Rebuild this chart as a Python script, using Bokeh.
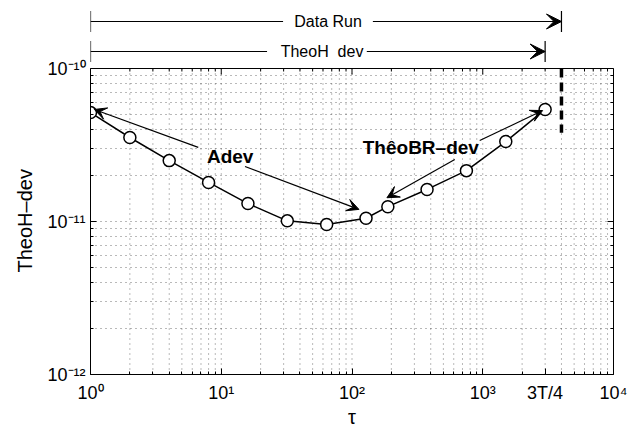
from bokeh.plotting import figure
from bokeh.models import (FixedTicker, LogAxis, Arrow, VeeHead, TeeHead, Label,
                          Range1d, CustomJSTickFormatter, Title)
from bokeh.embed import file_html
from bokeh.resources import INLINE

# ---- data ----
tau = [1, 2, 4, 8, 16, 32, 64, 128, 188, 375, 750, 1500, 3000]
dev = [5.15e-11, 3.54e-11, 2.5e-11, 1.8e-11, 1.31e-11, 1.01e-11, 9.55e-12,
       1.05e-11, 1.25e-11, 1.62e-11, 2.15e-11, 3.33e-11, 5.4e-11]
T = 4000
x_major = [1, 10, 100, 1000, 3000, 10000]
x_labels = ["10\u2070", "10\u00b9", "10\u00b2", "10\u00b3", "3T/4", "10\u2074"]
y_major = [1e-12, 1e-11, 1e-10]
y_labels = ["10\u207b\u00b9\u00b2", "10\u207b\u00b9\u00b9", "10\u207b\u00b9\u2070"]
x_decades = [1, 10, 100, 1000, 10000]
x_minor = [m * d for d in [1, 10, 100, 1000] for m in range(2, 10)]
y_minor = [m * d for d in [1e-12, 1e-11] for m in range(2, 10)]

FONT = "Liberation Sans"
X0, X1 = 1, 1e4
Y0, Y1 = 1e-12, 1e-10
DEC_PX = 153.0                      # pixels per y decade
Y_TOP = Y0 * 10 ** (374 / DEC_PX)   # frame extended up to the top of the page


def ydown(y, px):
    return y * 10 ** (-px / DEC_PX)


p = figure(width=635, height=430, x_axis_type="log", y_axis_type="log",
           x_range=Range1d(X0, X1), y_range=Range1d(Y0, Y_TOP),
           output_backend="svg", toolbar_location=None,
           min_border_left=90, min_border_right=22, min_border_top=0,
           min_border_bottom=56, background_fill_color="white",
           border_fill_color="white")
p.outline_line_color = None

lab_code = """
let best = 0, bd = Infinity;
for (let i = 0; i < tv.length; i++) {
  const d = Math.abs(Math.log10(tick) - Math.log10(tv[i]));
  if (d < bd) { bd = d; best = i; }
}
return labels[best];
"""

xa = p.xaxis[0]
xa.ticker = FixedTicker(ticks=x_major, minor_ticks=x_minor)
xa.formatter = CustomJSTickFormatter(code=lab_code, args=dict(tv=x_major, labels=x_labels))
ya = p.yaxis[0]
ya.ticker = FixedTicker(ticks=y_major, minor_ticks=y_minor)
ya.formatter = CustomJSTickFormatter(code=lab_code, args=dict(tv=y_major, labels=y_labels))
ya.bounds = (Y0, Y1)

for ax in (xa, ya):
    ax.major_tick_in = 6
    ax.major_tick_out = 0
    ax.minor_tick_in = 3
    ax.minor_tick_out = 0
    ax.axis_line_color = "black"
    ax.major_tick_line_color = "black"
    ax.minor_tick_line_color = "black"
    ax.major_label_text_font = FONT
    ax.major_label_text_font_size = "18px"
    ax.major_label_text_color = "black"
    ax.axis_label_text_font = FONT
    ax.axis_label_text_font_style = "normal"
    ax.axis_label_text_color = "black"

xa.axis_label = "\u03c4"
xa.axis_label_text_font_size = "20px"
xa.major_label_standoff = 8
xa.axis_label_standoff = 0
ya.major_label_standoff = 5

# y axis title, centred on the plotted decades (not on the extended frame)
p.add_layout(Title(text="TheoH\u2013dev", align="left", offset=102,
                   text_font=FONT, text_font_size="20px", text_font_style="normal",
                   text_color="black", standoff=17), "left")

# right side of the box
empty = CustomJSTickFormatter(code="return ''")
right = LogAxis(ticker=FixedTicker(ticks=y_major, minor_ticks=y_minor), formatter=empty,
                major_tick_in=6, major_tick_out=0, minor_tick_in=3, minor_tick_out=0,
                major_label_standoff=0, bounds=(Y0, Y1))
p.add_layout(right, "right")

# dotted grids
p.xgrid.visible = False
g = p.ygrid[0]
g.grid_line_color = "black"
g.grid_line_alpha = 0.55
g.grid_line_dash = "1 4"
g.minor_grid_line_color = "black"
g.minor_grid_line_alpha = 0.55
g.minor_grid_line_dash = "1 4"
gx = x_decades[1:-1] + x_minor
p.segment(x0=gx, y0=[Y0] * len(gx), x1=gx, y1=[Y1] * len(gx),
          line_color="black", line_alpha=0.55, line_dash="1 4", line_width=1)

# top border with inside ticks
p.segment(x0=[X0], y0=[Y1], x1=[X1], y1=[Y1], line_color="black", line_width=1)
p.segment(x0=x_decades, y0=[Y1] * len(x_decades), x1=x_decades,
          y1=[ydown(Y1, 6)] * len(x_decades), line_color="black", line_width=1)
p.segment(x0=x_minor, y0=[Y1] * len(x_minor), x1=x_minor,
          y1=[ydown(Y1, 3)] * len(x_minor), line_color="black", line_width=1)

# end of data run
p.segment(x0=[T], y0=[Y1], x1=[T], y1=[3.8e-11], line_color="black",
          line_width=3.5, line_dash="9 5")

# data
p.line(tau, dev, line_color="black", line_width=1.5)
p.scatter(tau, dev, marker="circle", size=12, fill_color="white",
          line_color="black", line_width=1.5)


def arrow(x0, y0, x1, y1, head=True, start=None, width=1.2, hs=12):
    end = VeeHead(size=hs, fill_color="black", line_color="black") if head else None
    p.add_layout(Arrow(x_start=x0, y_start=y0, x_end=x1, y_end=y1, start=start,
                       end=end, line_color="black", line_width=width))


# annotation arrows
arrow(6.67, 3.05e-11, 1.07, 5.4e-11)
arrow(15.2, 2.29e-11, 113, 1.2e-11)
arrow(948, 3.38e-11, 2871, 5.31e-11)
arrow(611, 2.54e-11, 185, 1.43e-11)

p.add_layout(Label(x=11.7, y=2.66e-11, text="Adev", text_font=FONT,
                   text_font_size="19px", text_font_style="bold", text_color="black",
                   text_align="center", text_baseline="middle"))
p.add_layout(Label(x=336, y=3.05e-11, text="Th\u00eaoBR\u2013dev", text_font=FONT,
                   text_font_size="19px", text_font_style="bold", text_color="black",
                   text_align="center", text_baseline="middle"))

# span annotations above the plot
y_dr = Y0 * 10 ** ((374 - 21) / DEC_PX)
y_th = Y0 * 10 ** ((374 - 51) / DEC_PX)


def tee():
    return TeeHead(size=21, line_color="black", line_width=1.2)


arrow(1, y_dr, 29.7, y_dr, head=False, start=tee())
arrow(144.6, y_dr, T, y_dr, hs=15)
p.add_layout(Arrow(x_start=144.6, y_start=y_dr, x_end=T, y_end=y_dr, end=tee(),
                   line_color="black", line_width=1.2))
p.add_layout(Label(x=65.6, y=y_dr, text="Data Run", text_font=FONT, text_color="black",
                   text_font_size="16px", text_align="center", text_baseline="middle"))

arrow(1, y_th, 22.4, y_th, head=False, start=tee())
arrow(130, y_th, 3000, y_th, hs=15)
p.add_layout(Arrow(x_start=130, y_start=y_th, x_end=3000, y_end=y_th, end=tee(),
                   line_color="black", line_width=1.2))
p.add_layout(Label(x=59, y=y_th, text="TheoH\u00a0 dev", text_font=FONT, text_color="black",
                   text_font_size="16px", text_align="center", text_baseline="middle"))

# 3T/4 tick extending below the axis
p.add_layout(Arrow(x_start=3000, y_start=Y0, x_end=3000, y_end=ydown(Y0, 4),
                   end=None, line_color="black", line_width=1.2))

open("out.html", "w").write(file_html(p, INLINE))
